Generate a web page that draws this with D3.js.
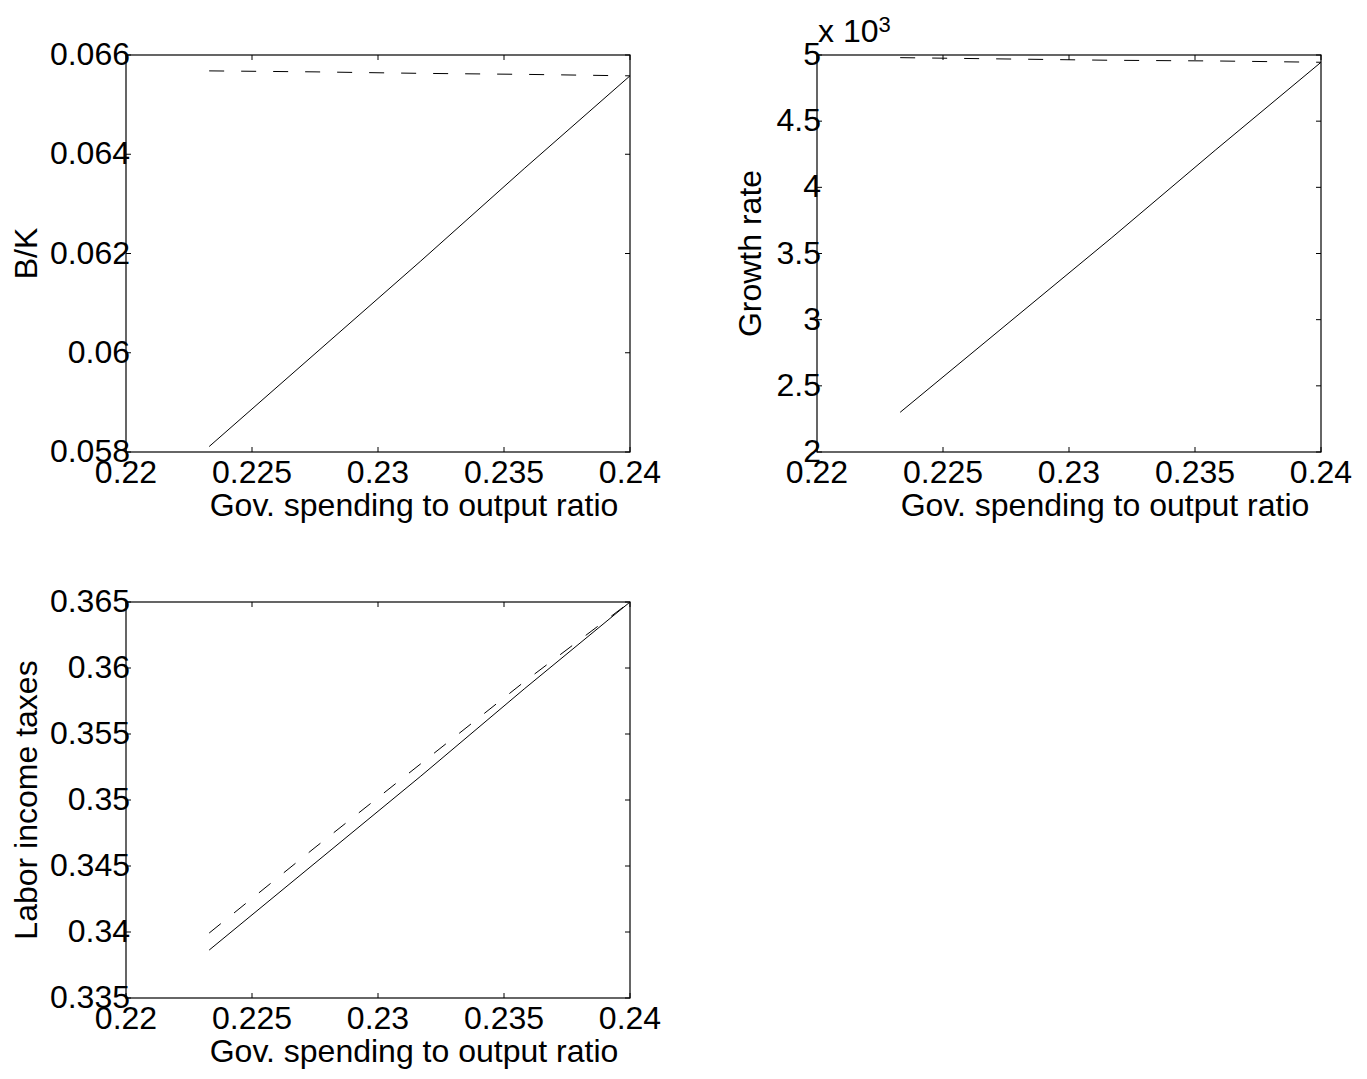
<!DOCTYPE html>
<html>
<head>
<meta charset="utf-8">
<script src="https://cdn.jsdelivr.net/npm/d3@7"></script>
<style>
  body { margin: 0; background: #fff; }
  svg { display: block; font-family: "Liberation Sans", Arial, sans-serif; }
  .tick-label { font-size: 32px; fill: #000; }
  .axis-title { font-size: 32px; fill: #000; }
</style>
</head>
<body>
<div id="chart"></div>
<script>
// shared x values (government spending to output ratio)
const govRatio = [0.2233, 0.2275, 0.2317, 0.2358, 0.24];
const xTicks = [0.22, 0.225, 0.23, 0.235, 0.24];

// panel 1: B/K
const bkSolid = [0.05811, 0.05998, 0.06185, 0.06371, 0.06558];
const bkDashed = [0.06568, 0.06566, 0.06563, 0.06561, 0.06558];
const bkTicks = [0.058, 0.06, 0.062, 0.064, 0.066];

// panel 2: growth rate
const growthSolid = [0.00230, 0.00296, 0.00362, 0.00428, 0.004945];
const growthDashed = [0.00498, 0.00497, 0.00496, 0.004955, 0.004945];
const growthTicks = [0.002, 0.0025, 0.003, 0.0035, 0.004, 0.0045, 0.005];

// panel 3: labor income taxes
const taxSolid = [0.33863, 0.34522, 0.35181, 0.35841, 0.365];
const taxDashed = [0.33992, 0.34640, 0.35275, 0.35895, 0.365];
const taxTicks = [0.335, 0.34, 0.345, 0.35, 0.355, 0.36, 0.365];

const W = 1367, H = 1079;
const svg = d3.select("#chart").append("svg")
    .attr("width", W)
    .attr("height", H);

function drawPanel(opt) {
    const x = d3.scaleLinear().domain([0.22, 0.24]).range([opt.left, opt.right]);
    const y = d3.scaleLinear().domain(opt.yDomain).range([opt.bottom, opt.top]);
    const g = svg.append("g");
    const tick = 5;

    // lines
    const line = d3.line()
        .x(function (d) { return x(d[0]); })
        .y(function (d) { return y(d[1]); });

    g.append("path")
        .datum(govRatio.map(function (v, i) { return [v, opt.solid[i]]; }))
        .attr("d", line)
        .attr("fill", "none")
        .attr("stroke", "#000")
        .attr("stroke-width", 1);

    g.append("path")
        .datum(govRatio.map(function (v, i) { return [v, opt.dashed[i]]; }))
        .attr("d", line)
        .attr("fill", "none")
        .attr("stroke", "#000")
        .attr("stroke-width", 1)
        .attr("stroke-dasharray", "15,17");

    // box
    g.append("rect")
        .attr("x", opt.left)
        .attr("y", opt.top)
        .attr("width", opt.right - opt.left)
        .attr("height", opt.bottom - opt.top)
        .attr("fill", "none")
        .attr("stroke", "#000")
        .attr("stroke-width", 1.2);

    // x ticks (inward, bottom and top)
    xTicks.forEach(function (t) {
        g.append("line").attr("x1", x(t)).attr("x2", x(t))
            .attr("y1", opt.bottom).attr("y2", opt.bottom - tick)
            .attr("stroke", "#000");
        g.append("line").attr("x1", x(t)).attr("x2", x(t))
            .attr("y1", opt.top).attr("y2", opt.top + tick)
            .attr("stroke", "#000");
        g.append("text")
            .attr("class", "tick-label")
            .attr("x", x(t))
            .attr("y", opt.bottom + 31)
            .attr("text-anchor", "middle")
            .text(String(+t.toFixed(4)));
    });

    // y ticks (inward, left and right)
    opt.yTicks.forEach(function (t) {
        g.append("line").attr("x1", opt.left).attr("x2", opt.left + tick)
            .attr("y1", y(t)).attr("y2", y(t))
            .attr("stroke", "#000");
        g.append("line").attr("x1", opt.right).attr("x2", opt.right - tick)
            .attr("y1", y(t)).attr("y2", y(t))
            .attr("stroke", "#000");
        g.append("text")
            .attr("class", "tick-label")
            .attr("x", opt.left + 4)
            .attr("y", y(t) + 10)
            .attr("text-anchor", "end")
            .text(opt.yFormat(t));
    });

    // x axis title
    g.append("text")
        .attr("class", "axis-title")
        .attr("x", (opt.left + opt.right) / 2 + 36)
        .attr("y", opt.bottom + 64)
        .attr("text-anchor", "middle")
        .text("Gov. spending to output ratio");

    // y axis title
    g.append("text")
        .attr("class", "axis-title")
        .attr("transform", "translate(" + opt.yTitleX + "," + (opt.top + opt.bottom) / 2 + ") rotate(-90)")
        .attr("text-anchor", "middle")
        .text(opt.yTitle);

    return g;
}

drawPanel({
    left: 126, right: 630, top: 55, bottom: 452,
    yDomain: [0.058, 0.066], yTicks: bkTicks,
    yFormat: function (d) { return String(+d.toFixed(4)); },
    solid: bkSolid, dashed: bkDashed,
    yTitle: "B/K", yTitleX: 37
});

const p2 = drawPanel({
    left: 817, right: 1321, top: 55, bottom: 452,
    yDomain: [0.002, 0.005], yTicks: growthTicks,
    yFormat: function (d) { return String(+(d * 1000).toFixed(2)); },
    solid: growthSolid, dashed: growthDashed,
    yTitle: "Growth rate", yTitleX: 761
});

// exponent label of the growth-rate axis
const expo = p2.append("text")
    .attr("class", "axis-title")
    .attr("x", 818)
    .attr("y", 42);
expo.append("tspan").text("x 10");
expo.append("tspan").attr("dy", -10).attr("font-size", 22).text("3");

drawPanel({
    left: 126, right: 630, top: 602, bottom: 998,
    yDomain: [0.335, 0.365], yTicks: taxTicks,
    yFormat: function (d) { return String(+d.toFixed(4)); },
    solid: taxSolid, dashed: taxDashed,
    yTitle: "Labor income taxes", yTitleX: 37
});
</script>
</body>
</html>
